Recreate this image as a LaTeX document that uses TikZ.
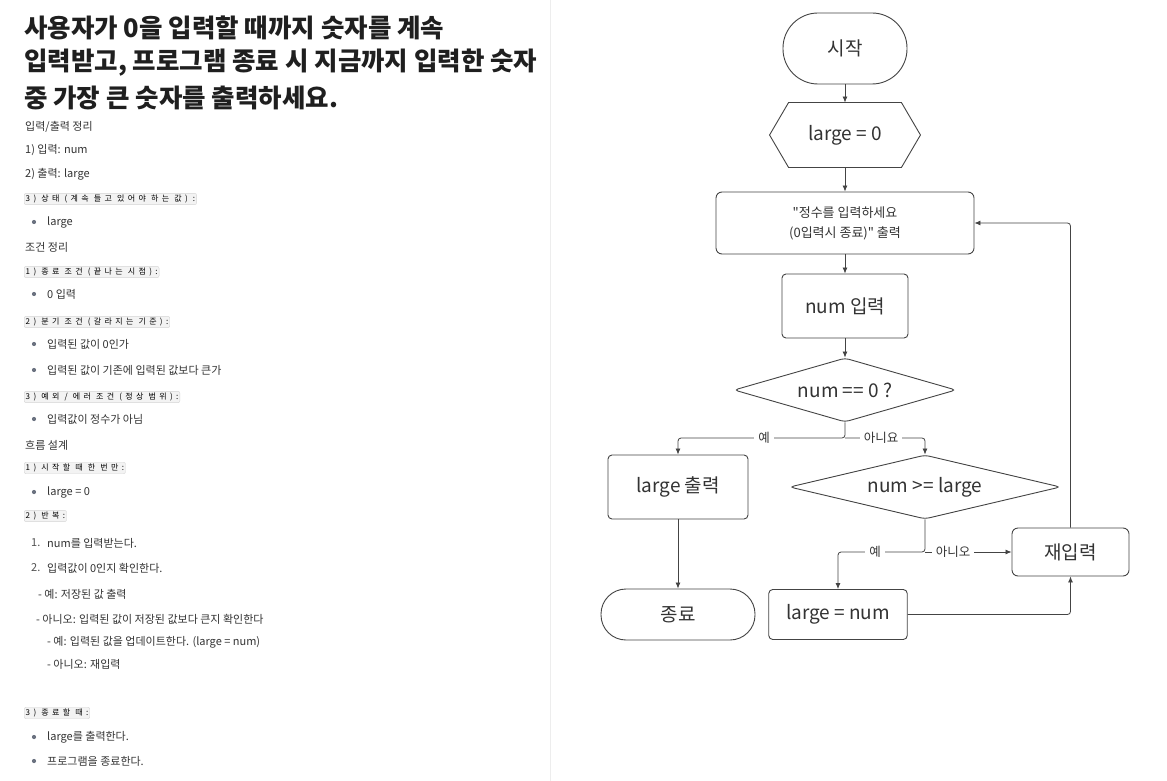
\documentclass[tikz,border=0pt]{standalone}
\usepackage{fontspec}
\setmainfont{Noto Sans CJK KR}
\newfontfamily\rawkr{Noto Sans CJK KR}
\usetikzlibrary{shapes.geometric,arrows.meta}
\definecolor{txt}{HTML}{333333}
\definecolor{ttl}{HTML}{1F1F1F}
\definecolor{ln}{HTML}{444444}
\definecolor{codebg}{HTML}{F3F3F3}
\definecolor{codeln}{HTML}{D4D4D4}
\definecolor{bulc}{HTML}{6B7280}
\definecolor{divc}{HTML}{EDEDED}
\begin{document}
\begin{tikzpicture}[x=1pt,y=-1pt,
 title/.style={anchor=west,inner sep=0,text=ttl,font=\fontsize{25.5}{28}\selectfont\bfseries},
 body/.style={anchor=west,inner sep=0,text=txt,font=\fontsize{11}{13}\selectfont},
 code/.style={anchor=west,draw=codeln,fill=codebg,rounded corners=2pt,inner xsep=1.5pt,inner ysep=1.6pt,text=black,font={\fontsize{8}{9}\selectfont\addfontfeature{LetterSpace=42}}},
 bul/.style={circle,fill=bulc,inner sep=0,minimum size=4.2pt},
 box/.style={draw=ln,line width=0.9pt,text=txt,inner sep=0,align=center,font=\fontsize{19}{22}\selectfont},
 fc/.style={draw=ln,line width=0.8pt,rounded corners=3pt,-{Latex[length=6pt,width=5pt]}},
 lab/.style={fill=white,text=txt,inner xsep=4pt,inner ysep=1pt,font=\fontsize{12.5}{14}\selectfont},
]
\fill[white] (0,0) rectangle (1167,781);
\useasboundingbox (0,0) rectangle (1167,781);
\draw[divc, line width=1pt] (550,0) -- (550,781);

% title
\node[title] (T1) at (24,28) {사용자가 0을 입력할 때까지 숫자를 계속};
\node[title] (T2) at (24,63) {입력받고, 프로그램 종료 시 지금까지 입력한 숫자};
\node[title] (T3) at (24,98) {중 가장 큰 숫자를 출력하세요.};

% body
\node[body] (a1) at (25,127) {입력/출력 정리};
\node[body] (a2) at (25,150) {1) 입력: num};
\node[body] (a3) at (25,174) {2) 출력: large};
\node[code] (c1) at (24,199) {3) 상태 (계속 들고 있어야 하는 값) :};
\node[bul] (d1) at (34,222) {};
\node[body] (a4) at (47,222) {large};
\node[body] (a5) at (25,247) {조건 정리};
\node[code] (c2) at (24,272) {1) 종료 조건 (끝나는 시점):};
\node[bul] (d2) at (34,294) {};
\node[body] (a6) at (47,294) {0 입력};
\node[code] (c3) at (24,322) {2) 분기 조건 (갈라지는 기준):};
\node[bul] (d3) at (34,344) {};
\node[body] (a7) at (47,344) {입력된 값이 0인가};
\node[bul] (d4) at (34,370) {};
\node[body] (a8) at (47,370) {입력된 값이 기존에 입력된 값보다 큰가};
\node[code] (c4) at (24,397) {3) 예외 / 에러 조건 (정상 범위):};
\node[bul] (d5) at (34,419) {};
\node[body] (a9) at (47,419) {입력값이 정수가 아님};
\node[body] (a10) at (25,445) {흐름 설계};
\node[code] (c5) at (24,468) {1) 시작할 때 한 번만:};
\node[bul] (d6) at (34,492) {};
\node[body] (a11) at (47,492) {large = 0};
\node[code] (c6) at (24,516) {2) 반복:};
\node[body, text=txt!85] (m1) at (31,543) {1.};
\node[body] (a12) at (47,543) {num를 입력받는다.};
\node[body, text=txt!85] (m2) at (31,568) {2.};
\node[body] (a13) at (47,568) {입력값이 0인지 확인한다.};
\node[body] (a14) at (38,594) {- 예: 저장된 값 출력};
\node[body] (a15) at (36,619) {- 아니오: 입력된 값이 저장된 값보다 큰지 확인한다};
\node[body] (a16) at (47,642) {- 예: 입력된 값을 업데이트한다. (large = num)};
\node[body] (a17) at (47,664) {- 아니오: 재입력};
\node[code] (c7) at (24,713) {3) 종료할 때:};
\node[bul] (d7) at (34,737) {};
\node[body] (a18) at (47,737) {large를 출력한다.};
\node[bul] (d8) at (34,761) {};
\node[body] (a19) at (47,761) {프로그램을 종료한다.};

% flowchart
\node[box, rounded corners=35pt, minimum width=124, minimum height=71] (start) at (845,48.5) {시작};
\node[box, draw=none, minimum width=150, minimum height=64] (init) at (845,135) {large = 0};
\draw[ln, line width=0.9pt] (init.west) -- ([xshift=19pt]init.north west) -- ([xshift=-19pt]init.north east) -- (init.east) -- ([xshift=-19pt]init.south east) -- ([xshift=19pt]init.south west) -- cycle;
\node[box, rounded corners=6pt, minimum width=258, minimum height=62, font=\rawkr\fontsize{13}{20}\selectfont] (prompt) at (845,223) {"정수를 입력하세요\\(0입력시 종료)" 출력};
\node[box, rounded corners=4pt, minimum width=126, minimum height=64] (input) at (845,306) {num 입력};
\node[box, diamond, aspect=3.5, rounded corners=4pt, minimum width=222, minimum height=64] (dec1) at (845,390) {num == 0 ?};
\node[box, rounded corners=4pt, minimum width=140, minimum height=64] (outp) at (678,487) {large 출력};
\node[box, diamond, aspect=4.23, rounded corners=4pt, minimum width=271, minimum height=64] (dec2) at (925,487) {num >= large};
\node[box, rounded corners=6pt, minimum width=117, minimum height=48] (redo) at (1070.5,552) {재입력};
\node[box, rounded corners=4pt, minimum width=138.5, minimum height=50] (upd) at (838,614.5) {large = num};
\node[box, rounded corners=25pt, minimum width=154, minimum height=51] (stop) at (678,614.5) {종료};

\coordinate (br1) at (845,438);
\coordinate (br2) at (925,552);
\draw[fc] (start) -- (init);
\draw[fc] (init) -- (prompt);
\draw[fc] (prompt) -- (input);
\draw[fc] (input) -- (dec1);
\draw[fc] (dec1.south) -- (br1) -| (outp.north);
\draw[fc] (br1) -| (dec2.north);
\draw[fc] (dec2.south) -- (br2) -| (upd.north);
\draw[fc] (br2) -- (redo.west);
\draw[fc] (upd.east) -| (redo.south);
\draw[fc] (redo.north) |- (prompt.east);
\draw[fc] (outp) -- (stop);

\node[lab] (y1) at (764,438) {예};
\node[lab] (no1) at (881,438) {아니요};
\node[lab] (y2) at (875,552) {예};
\node[lab] (no2) at (953,552) {아니오};
\end{tikzpicture}
\end{document}
